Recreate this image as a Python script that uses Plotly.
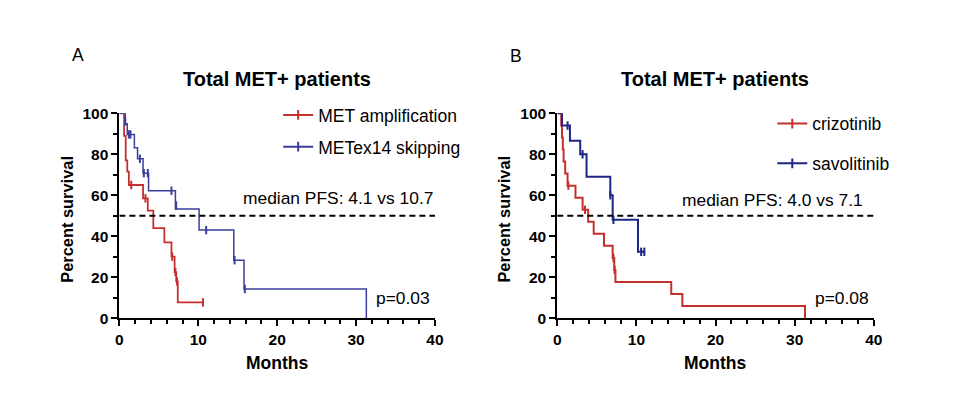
import plotly.graph_objects as go

# ---------------- data ----------------
A_amp_t = [0, 0.6, 0.8, 1.0, 1.2, 3.0, 3.6, 4.3, 5.7, 6.6, 7.0, 7.2, 7.4, 10.6]
A_amp_s = [100, 89, 77, 71.5, 65, 58.5, 52.5, 44, 37, 30, 22.5, 18, 7.7, 7.7]
A_amp_cens_t = [1.5, 3.3, 6.7, 7.1, 7.3, 10.6]
A_amp_cens_s = [65, 58.5, 30, 22.5, 18, 7.7]

A_skip_t = [0, 0.74, 1.0, 1.9, 2.3, 3.0, 3.7, 7.1, 10.1, 14.5, 15.8, 31.3]
A_skip_s = [100, 94.9, 89.7, 83.2, 77.8, 70.8, 62.2, 53.3, 43.0, 28.3, 14.2, 0]
A_skip_cens_t = [0.75, 1.2, 1.4, 2.6, 3.1, 3.6, 6.6, 7.2, 11.0, 14.6, 15.9]
A_skip_cens_s = [96, 89.7, 89.7, 77.8, 70.8, 70.8, 62.2, 55, 43.0, 28.3, 14.2]

B_criz_t = [0, 0.5, 0.6, 0.7, 0.8, 1.0, 1.3, 2.3, 3.2, 3.9, 4.6, 5.9, 7.0, 7.2, 7.35, 14.4, 15.8, 31.3]
B_criz_s = [100, 94.1, 88.2, 82.4, 76.5, 70.6, 64.7, 58.8, 52.9, 47.1, 41.2, 35.3, 29.4, 23.5, 17.6, 11.8, 5.9, 0]
B_criz_cens_t = [1.4, 3.5, 7.1, 7.25]
B_criz_cens_s = [64.7, 52.9, 29.4, 23.5]

B_savo_t = [0, 0.6, 1.6, 2.9, 3.7, 6.7, 7.0, 10.2, 11.1]
B_savo_s = [100, 94, 86.6, 80, 69, 60, 48, 32.4, 32.4]
B_savo_cens_t = [1.3, 3.2, 6.7, 7.1, 10.6, 11.0]
B_savo_cens_s = [94, 80, 60, 48, 32.4, 32.4]

labels_A = ["MET amplification", "METex14 skipping"]
labels_B = ["crizotinib", "savolitinib"]
median_text = ["median PFS: 4.1 vs 10.7", "median PFS: 4.0 vs 7.1"]
p_text = ["p=0.03", "p=0.08"]
median_level = 50
x_max = 40

RED = "#c4302e"
BLUE_A = "#3b3e9c"
BLUE_B = "#1d2585"
FONT = "Liberation Sans, Arial, sans-serif"

fig = go.Figure()


def add_curve(t, s, ct, cs, color, name, xa, ya, legend, group, width):
    fig.add_trace(go.Scatter(x=t, y=s, mode="lines", line=dict(color=color, width=width, shape="hv"),
                             xaxis=xa, yaxis=ya, showlegend=False, legendgroup=group, hoverinfo="skip"))
    fig.add_trace(go.Scatter(x=ct, y=cs, mode="markers", xaxis=xa, yaxis=ya, showlegend=False,
                             legendgroup=group, cliponaxis=False,
                             marker=dict(symbol="line-ns", size=6, line=dict(color=color, width=2))))
    fig.add_trace(go.Scatter(x=[None], y=[None], mode="lines+markers", name=name, legend=legend,
                             legendgroup=group, xaxis=xa, yaxis=ya,
                             line=dict(color=color, width=2),
                             marker=dict(symbol="line-ns", size=7, line=dict(color=color, width=2))))


add_curve(A_amp_t, A_amp_s, A_amp_cens_t, A_amp_cens_s, RED, labels_A[0], "x", "y", "legend", "a1", 1.8)
add_curve(A_skip_t, A_skip_s, A_skip_cens_t, A_skip_cens_s, BLUE_A, labels_A[1], "x", "y", "legend", "a2", 1.5)
add_curve(B_criz_t, B_criz_s, B_criz_cens_t, B_criz_cens_s, RED, labels_B[0], "x2", "y2", "legend2", "b1", 2)
add_curve(B_savo_t, B_savo_s, B_savo_cens_t, B_savo_cens_s, BLUE_B, labels_B[1], "x2", "y2", "legend2", "b2", 2)

for xa, ya in [("x", "y"), ("x2", "y2")]:
    fig.add_trace(go.Scatter(x=[0, x_max], y=[median_level, median_level], mode="lines", xaxis=xa, yaxis=ya,
                             showlegend=False, hoverinfo="skip",
                             line=dict(color="black", width=2, dash="6px,4px")))

# Figure drawn at the page origin; all positions given in screen pixels.
W, H = 944, 397


def fx(px):
    return px / W


def fy(py):
    return (H - py) / H


yd = [fy(323), fy(109)]
axis_common = dict(showline=True, linewidth=2, linecolor="black", ticks="outside", ticklen=6, tickwidth=2,
                   tickcolor="black", showgrid=False, zeroline=False,
                   tickfont=dict(family=FONT, size=15.5, color="black", weight="bold"))
xcommon = dict(axis_common, range=[0, x_max], dtick=10, tick0=0,
               minor=dict(dtick=2, ticks="outside", ticklen=4, tickwidth=1.5, tickcolor="black"))
ycommon = dict(axis_common, range=[0, 100], dtick=20, tick0=0,
               minor=dict(dtick=10, ticks="outside", ticklen=4, tickwidth=1.5, tickcolor="black"))

fig.update_layout(
    width=W, height=H, margin=dict(l=0, r=0, t=0, b=0, pad=0),
    paper_bgcolor="white", plot_bgcolor="white",
    xaxis=dict(xcommon, domain=[fx(117), fx(437)], anchor="y"),
    yaxis=dict(ycommon, domain=yd, anchor="x"),
    xaxis2=dict(xcommon, domain=[fx(561), fx(882)], anchor="y2"),
    yaxis2=dict(ycommon, domain=yd, anchor="x2"),
    legend=dict(x=fx(278), y=fy(92), xanchor="left", yanchor="top", bgcolor="rgba(0,0,0,0)",
                font=dict(family=FONT, size=17.5, color="black"), tracegroupgap=6, itemwidth=30),
    legend2=dict(x=fx(779), y=fy(101), xanchor="left", yanchor="top", bgcolor="rgba(0,0,0,0)",
                 font=dict(family=FONT, size=17.5, color="black"), tracegroupgap=14, itemwidth=30),
    showlegend=True,
)


def pa(text, px, py, size, bold=False, angle=0):
    return dict(text=text, x=fx(px), y=fy(py), xref="paper", yref="paper", xanchor="center",
                yanchor="middle", showarrow=False, textangle=angle,
                font=dict(family=FONT, size=size, color="black", weight="bold" if bold else "normal"))


ann = [pa("A", 75, 48, 17.5), pa("B", 519, 49, 17.5)]
for cx in [277, 721]:
    ann.append(pa("Total MET+ patients", cx, 73, 20, True))
    ann.append(pa("Months", cx, 370, 17.5, True))
for lx in [63, 507]:
    ann.append(pa("Percent survival", lx, 220, 16.4, True, -90))


def da(text, x, y, xr, yr):
    return dict(text=text, x=x, y=y, xref=xr, yref=yr, xanchor="right", yanchor="middle",
                showarrow=False, font=dict(family=FONT, size=17.4, color="black"))


ann.append(da(median_text[0], 40, 58.5, "x", "y"))
ann.append(da(median_text[1], 38.9, 57.5, "x2", "y2"))
ann.append(da(p_text[0], 39.6, 10, "x", "y"))
ann.append(da(p_text[1], 39.7, 10, "x2", "y2"))
fig.update_layout(annotations=ann)

fig.write_html("out.html")
